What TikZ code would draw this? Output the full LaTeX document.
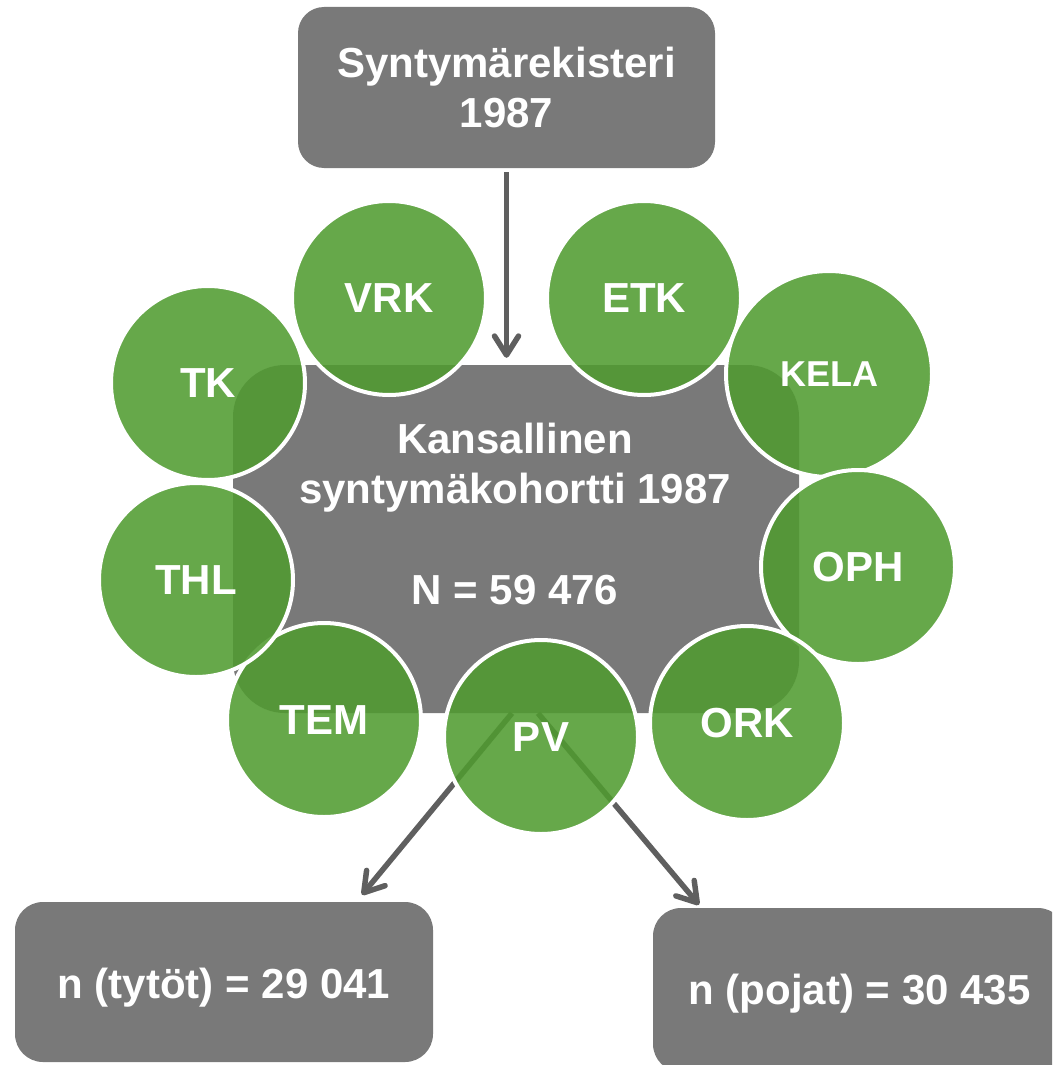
\documentclass[tikz,border=0pt]{standalone}
\usepackage{fontspec}
\setmainfont{Liberation Sans}
\usetikzlibrary{arrows.meta}
\definecolor{boxgray}{RGB}{121,121,121}
\definecolor{arrgray}{RGB}{95,95,95}
\definecolor{cgreen}{RGB}{80,155,48}
\begin{document}
\begin{tikzpicture}[x=1pt,y=-1pt,
  box/.style={fill=boxgray, rounded corners=26pt, inner sep=0pt, text=white,
    font=\fontsize{42}{50.5}\selectfont\bfseries, align=center},
  lbl/.style={text=white, inner sep=0pt, font=\fontsize{42}{50.5}\selectfont\bfseries, align=center},
  org/.style={circle, fill=cgreen, fill opacity=0.875, text opacity=1, draw=white,
    line width=4pt, minimum size=194pt, inner sep=0pt, text=white,
    font=\fontsize{42}{50}\selectfont\bfseries},
  arr/.style={draw=arrgray, line width=5.5pt, -{Straight Barb[length=19pt,width=24pt,round]}}
]
\useasboundingbox (0,0) rectangle (1052,1065);
\clip (0,0) rectangle (1052,1065);
% boxes
\node[box, minimum width=417pt, minimum height=161pt] (reg) at (506.5,87.5) {Syntymärekisteri\\1987};
\node[box, rounded corners=52pt, minimum width=566pt, minimum height=348pt] (kohortti) at (516,539) {};
\node[lbl] (ktext) at (515,514) {Kansallinen\\syntymäkohortti 1987\\[50.5pt]N = 59 476};
\node[box, rounded corners=28pt, minimum width=418pt, minimum height=160pt,
  text height=40pt, text depth=8pt] (tytot) at (224,982) {n (tytöt) = 29 041};
\node[box, rounded corners=28pt, minimum width=413pt, minimum height=164pt,
  text height=36pt, text depth=8pt] (pojat) at (859.5,990) {n (pojat) = 30 435};
% arrows
\draw[arr, shorten <=4pt, shorten >=7pt] (reg.south) -- (reg.south |- kohortti.north);
\draw[arr] ([xshift=-4pt]kohortti.south) -- ([xshift=138pt,yshift=7pt]tytot.north);
\draw[arr] ([xshift=22pt]kohortti.south) -- ([xshift=-160.5pt,yshift=3pt]pojat.north);
% circles
\node[org] (vrk) at (389,298) {VRK};
\node[org] (etk) at (644,298) {ETK};
\node[org, minimum size=206pt, font=\fontsize{36}{40}\selectfont\bfseries] (kela) at (829,374) {KELA};
\node[org] (oph) at (858,567) {OPH};
\node[org] (ork) at (747,723) {ORK};
\node[org] (pv) at (541,737) {PV};
\node[org] (tem) at (324,720) {TEM};
\node[org] (thl) at (196,580) {THL};
\node[org] (tk) at (208,383) {TK};
\end{tikzpicture}
\end{document}
